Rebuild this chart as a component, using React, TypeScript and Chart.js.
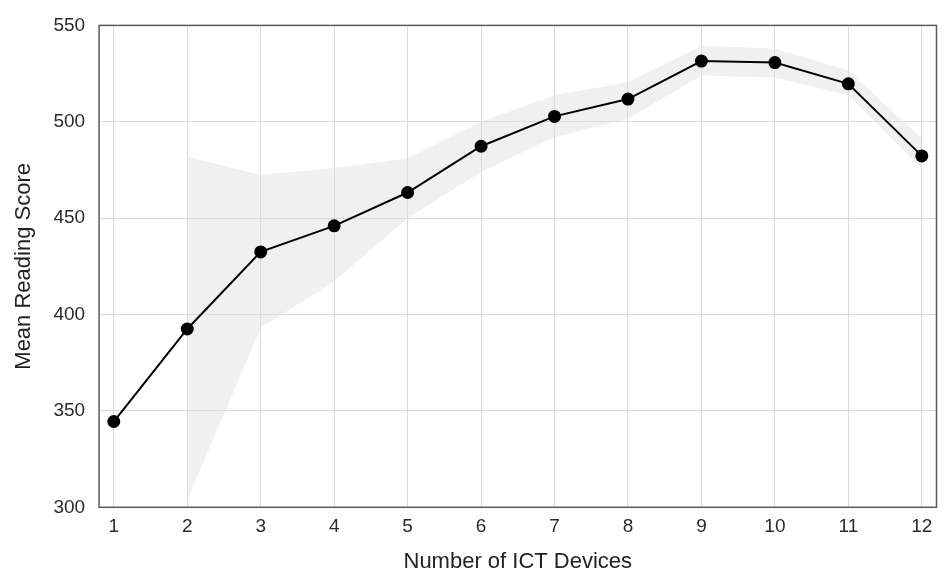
import React, { useEffect, useRef } from "react";
import { Chart, registerables } from "chart.js";

Chart.register(...registerables);

const devices = [1, 2, 3, 4, 5, 6, 7, 8, 9, 10, 11, 12];
const meanScore = [344.5, 392.5, 432.5, 446, 463.3, 487.3, 502.8, 511.8, 531.5, 530.7, 519.7, 482.3];
const upperBand: (number | null)[] = [null, 481.8, 472.4, 476, 480.9, 500, 513.7, 520.5, 539.5, 538, 526.6, 491.3];
const lowerBand: (number | null)[] = [null, 303.6, 393, 417.3, 450, 474, 492, 501.6, 524, 523, 513.7, 475.8];
const yTicks = [300, 350, 400, 450, 500, 550];

const FONT = "'Liberation Sans', Arial, sans-serif";

const framePlugin = {
  id: "frame",
  afterDraw(chart: any) {
    const { ctx, chartArea } = chart;
    ctx.save();
    ctx.strokeStyle = "#5a5a5a";
    ctx.lineWidth = 1.5;
    ctx.strokeRect(chartArea.left, chartArea.top, chartArea.right - chartArea.left, chartArea.bottom - chartArea.top);
    ctx.restore();
  },
};

export default function App() {
  const ref = useRef<HTMLCanvasElement | null>(null);
  useEffect(() => {
    document.body.style.margin = "0";
    const ctx = ref.current!.getContext("2d")!;
    const chart = new Chart(ctx, {
      type: "line",
      data: {
        datasets: [
          {
            label: "upper",
            data: devices.map((d, i) => ({ x: d, y: upperBand[i] })),
            borderWidth: 0,
            borderColor: "rgba(0,0,0,0)",
            pointRadius: 0,
            fill: false,
            order: 3,
          },
          {
            label: "lower",
            data: devices.map((d, i) => ({ x: d, y: lowerBand[i] })),
            borderWidth: 0,
            borderColor: "rgba(0,0,0,0)",
            backgroundColor: "rgba(222,222,222,0.45)",
            pointRadius: 0,
            fill: "-1",
            order: 2,
          },
          {
            label: "mean",
            data: devices.map((d, i) => ({ x: d, y: meanScore[i] })),
            borderColor: "#000000",
            backgroundColor: "#000000",
            borderWidth: 2,
            pointRadius: 5.5,
            pointHoverRadius: 5.5,
            fill: false,
            order: 1,
          },
        ],
      },
      options: {
        animation: false,
        responsive: false,
        layout: { padding: { left: 0, right: 4, top: 19, bottom: 0 } },
        plugins: { legend: { display: false }, tooltip: { enabled: false } },
        scales: {
          x: {
            type: "linear",
            min: 0.8,
            max: 12.2,
            afterBuildTicks: (scale: any) => {
              scale.ticks = devices.map((v) => ({ value: v }));
            },
            grid: { color: "#dadada", lineWidth: 1, drawTicks: false },
            border: { display: false },
            ticks: { color: "#2a2a2a", font: { family: FONT, size: 19 }, padding: 8, autoSkip: false, maxRotation: 0 },
            title: { display: true, text: "Number of ICT Devices", color: "#222222", font: { family: FONT, size: 22 }, padding: { top: 2.5, bottom: 0 } },
          },
          y: {
            min: 300,
            max: 550,
            afterBuildTicks: (scale: any) => {
              scale.ticks = yTicks.map((v) => ({ value: v }));
            },
            grid: { color: "#dadada", lineWidth: 1, drawTicks: false },
            border: { display: false },
            ticks: { color: "#2a2a2a", font: { family: FONT, size: 19 }, padding: 14 },
            title: { display: true, text: "Mean Reading Score", color: "#222222", font: { family: FONT, size: 22 }, padding: { top: 11, bottom: 2 } },
          },
        },
      },
      plugins: [framePlugin],
    });
    return () => chart.destroy();
  }, []);
  return (
    <div style={{ width: 944, height: 575 }}>
      <canvas ref={ref} width={944} height={575} style={{ display: "block" }} />
    </div>
  );
}
